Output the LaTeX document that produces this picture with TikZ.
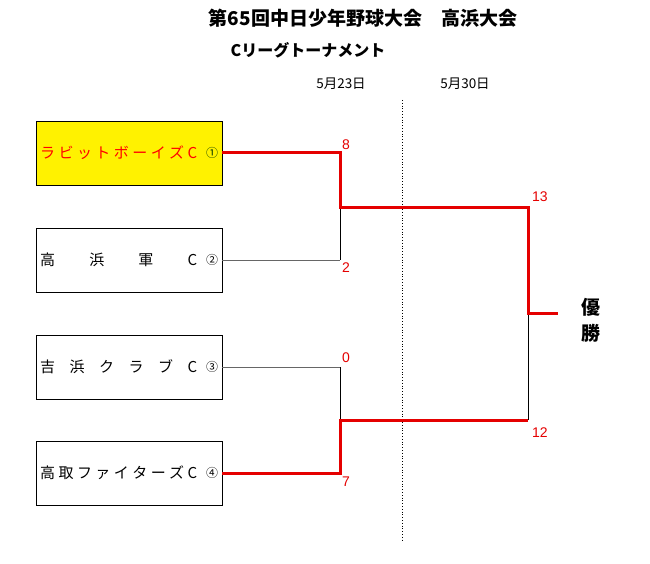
\documentclass[tikz,border=0pt]{standalone}
\usepackage{fontspec}
\setmainfont{Noto Sans CJK JP}
\newfontfamily\digitfont{Liberation Sans}
\begin{document}
\begin{tikzpicture}[x=1pt,y=-1pt,
  team/.style={draw=black,line width=0.8pt,minimum width=186pt,minimum height=64pt,inner sep=0pt},
  win/.style={draw=red!90!black,line width=3pt},
  lose/.style={draw=black!60,line width=1pt},
  thin/.style={draw=black,line width=0.8pt},
  score/.style={text=red!90!black,font=\digitfont\fontsize{14}{14}\selectfont,inner sep=0pt,anchor=west},
  lbl/.style={font=\fontsize{15}{15}\selectfont,inner sep=0pt,anchor=west},
  circ/.style={font=\fontsize{12}{12}\selectfont,inner sep=0pt}]
\useasboundingbox (0,0) rectangle (650,564);
\fill[white] (0,0) rectangle (650,564);
% title
\node[font=\bfseries\fontsize{19}{19}\selectfont,inner sep=0pt] (title) at (363,18) {第65回中日少年野球大会　高浜大会};
\node[font=\bfseries\fontsize{16}{16}\selectfont,inner sep=0pt] (sub) at (308,50) {Cリーグトーナメント};
\node[font=\fontsize{13.5}{13.5}\selectfont,inner sep=0pt] (d1) at (341,84) {5月23日};
\node[font=\fontsize{13.5}{13.5}\selectfont,inner sep=0pt] (d2) at (465,84) {5月30日};
% dotted divider
\coordinate (dtop) at (402,100);
\coordinate (dbot) at (402,540);
\draw[dotted,line width=0.8pt] (dtop) -- (dbot);
% teams
\node[team,fill=yellow] (t1) at (129,153) {};
\node[team] (t2) at (129,260) {};
\node[team] (t3) at (129,367) {};
\node[team] (t4) at (129,473) {};
\node[lbl,text=red] (n1) at (40,153) {\makebox[157pt][s]{ラ\hfil ビ\hfil ッ\hfil ト\hfil ボ\hfil ー\hfil イ\hfil ズ\hfil C}};
\node[lbl] (n2) at (40,260) {\makebox[157pt][s]{高\hfil 浜\hfil 軍\hfil C}};
\node[lbl] (n3) at (40,367) {\makebox[157pt][s]{吉\hfil 浜\hfil ク\hfil ラ\hfil ブ\hfil C}};
\node[lbl] (n4) at (40,473) {\makebox[157pt][s]{高\hfil 取\hfil フ\hfil ァ\hfil イ\hfil タ\hfil ー\hfil ズ\hfil C}};
\node[circ,text=black!80!green] (c1) at (212,153) {①};
\node[circ] (c2) at (212,260) {②};
\node[circ] (c3) at (212,367) {③};
\node[circ] (c4) at (212,473) {④};
% bracket coordinates
\coordinate (a1) at (340,153);
\coordinate (a2) at (340,260);
\coordinate (m1) at (340,207);
\coordinate (a3) at (340,367);
\coordinate (a4) at (340,473);
\coordinate (m2) at (340,420);
\coordinate (f1) at (528,207);
\coordinate (f2) at (528,420);
\coordinate (fm) at (528,313);
\coordinate (champ) at (558,313);
% losing lines
\draw[lose] (t2.east) -- (a2);
\draw[thin] (a2) -- (m1);
\draw[lose] (t3.east) -- (a3);
\draw[thin] (a3) -- (m2);
\draw[thin] (f2) -- (fm);
% winning lines
\draw[win,line join=miter] (t1.east) -- (a1) -- (m1) -- (f1) -- (fm) -- (champ);
\draw[win,line join=miter] (t4.east) -- (a4) -- (m2) -- (f2);
% scores
\node[score] (s8) at (342,145) {8};
\node[score] (s2) at (342,268) {2};
\node[score] (s0) at (342,358) {0};
\node[score] (s7) at (342,482) {7};
\node[score] (s13) at (532,197) {13};
\node[score] (s12) at (532,433) {12};
% champion
\node[font=\bfseries\fontsize{19}{19}\selectfont,inner sep=0pt] (w1) at (591,307) {優};
\node[font=\bfseries\fontsize{19}{19}\selectfont,inner sep=0pt] (w2) at (591,333) {勝};
\end{tikzpicture}
\end{document}
